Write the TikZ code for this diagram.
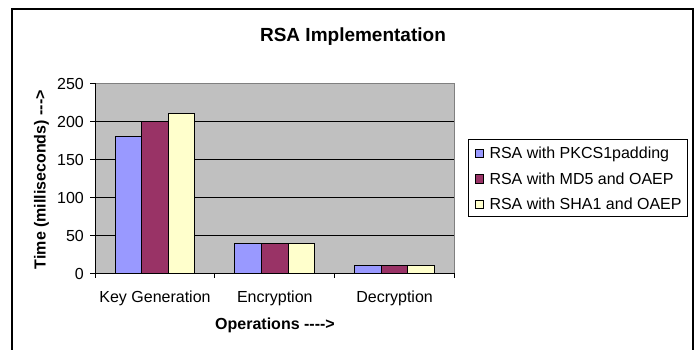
\documentclass[tikz,border=0pt]{standalone}
\usepackage{fontspec}
\setmainfont{Liberation Sans}
\definecolor{barA}{HTML}{9999FF}
\definecolor{barB}{HTML}{993366}
\definecolor{barC}{HTML}{FFFFCC}
\definecolor{plotbg}{HTML}{C0C0C0}
\definecolor{plotedge}{HTML}{808080}
\newcommand{\hy}{-\kern0pt}
\begin{document}
\begin{tikzpicture}[x=1pt,y=-1pt,
  txt/.style={font=\fontsize{16}{19}\selectfont, inner sep=0pt},
  boldtxt/.style={font=\fontsize{16}{19}\selectfont\bfseries, inner sep=0pt},
  titletxt/.style={font=\fontsize{19}{23}\selectfont\bfseries, inner sep=0pt},
  bar/.style={draw=black, line width=0.8pt},
  grid line/.style={black, line width=0.9pt},
  axis line/.style={black, line width=0.9pt}]
\useasboundingbox (0,0) rectangle (697,349);
\fill[white] (0,0) rectangle (697,349);
% outer frame
\draw[line width=1.3pt] (12,355) -- (12,9) -- (693,9) -- (693,355);
% title
\node[titletxt, anchor=base] (title) at (353,41) {RSA Implementation};
% plot area
\fill[plotbg] (95,83.3) rectangle (454.4,273.3);
\draw[plotedge, line width=1pt] (95,83.3) -- (454.4,83.3) -- (454.4,273.3);
\foreach \v in {50,100,150,200}
  \draw[grid line] (95,{273.3-0.76*\v}) -- (454.4,{273.3-0.76*\v});
% y axis
\draw[axis line] (95,83.3) -- (95,273.3);
\foreach \v in {0,50,100,150,200,250}{
  \draw[axis line] (90,{273.3-0.76*\v}) -- (95,{273.3-0.76*\v});
  \node[txt, anchor=base east] (ylab\v) at (84,{273.3-0.76*\v+5.8}) {\v};
}
% bars
\foreach \c/\a/\b/\d in {0/180/200/210, 1/40/40/40, 2/10/10/10}{
  \pgfmathsetmacro{\xs}{115+119.8*\c}
  \filldraw[bar, fill=barA] (\xs,273.3) rectangle ({\xs+26.6},{273.3-0.76*\a});
  \filldraw[bar, fill=barB] ({\xs+26.6},273.3) rectangle ({\xs+53.2},{273.3-0.76*\b});
  \filldraw[bar, fill=barC] ({\xs+53.2},273.3) rectangle ({\xs+79.8},{273.3-0.76*\d});
}
% x axis
\draw[axis line] (95,273.3) -- (454.4,273.3);
\foreach \i in {0,1,2,3}
  \draw[axis line] ({95+119.8*\i},273.3) -- ({95+119.8*\i},278.3);
\node[txt, anchor=base] (catA) at (155,302.5) {Key Generation};
\node[txt, anchor=base] (catB) at (274.8,302.5) {Encryption};
\node[txt, anchor=base] (catC) at (394.6,302.5) {Decryption};
\node[boldtxt, anchor=base] (xtitle) at (275,329.5) {Operations \hy\hy\hy\hy>};
\node[boldtxt, anchor=base, rotate=90] (ytitle) at (45.5,179.7) {Time (milliseconds) \hy\hy\hy>};
% legend
\draw[black, line width=1pt] (468.3,139.3) rectangle (687.7,216.7);
\foreach \col/\yy/\lab [count=\k] in {barA/153.3/RSA with PKCS1padding, barB/179/RSA with MD5 and OAEP, barC/204.3/RSA with SHA1 and OAEP}{
  \filldraw[bar, fill=\col] (475,{\yy-4.2}) rectangle (483.3,{\yy+4.2});
  \node[txt, anchor=base west] (leg\k) at (489.3,{\yy+5.5}) {\lab};
}
\end{tikzpicture}
\end{document}
